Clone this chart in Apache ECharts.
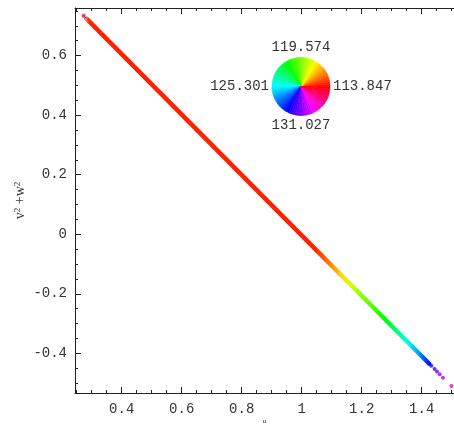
<!DOCTYPE html>
<html>
<head>
<meta charset="utf-8">
<script src="https://cdn.jsdelivr.net/npm/echarts@6/dist/echarts.min.js"></script>
<style>html,body{margin:0;padding:0;background:#fff;}#c{width:454px;height:430px;}</style>
</head>
<body>
<div id="c"></div>
<script>
// ---- data ----
// solid stroke of the curve (x, y)
const lineX = [0.285, 1.0, 1.425];
const lineY = [0.722, -0.004, -0.435];
// colour value (legend units) along the solid stroke, keyed by x
const colorX = [0.285, 0.300, 1.040, 1.070, 1.100, 1.130, 1.160, 1.190, 1.230, 1.270, 1.310, 1.345, 1.380, 1.410, 1.425];
const colorPhase = [116.392, 114.356, 114.356, 115.120, 116.074, 117.156, 118.301, 119.256, 120.210, 121.483, 123.392, 124.982, 126.573, 128.482, 129.118];
// isolated points (x, y, colour value)
const dotX = [0.273, 0.282, 0.286, 1.432, 1.443, 1.451, 1.460, 1.471, 1.499];
const dotY = [0.734, 0.725, 0.721, -0.442, -0.453, -0.461, -0.470, -0.482, -0.510];
const dotPhase = [136.118, 129.118, 121.483, 129.437, 130.073, 130.710, 131.346, 131.982, 134.209];
// legend wheel labels (right, top, left, bottom)
const wheelLabels = ['113.847', '119.574', '125.301', '131.027'];
const wheelHues = [0,5,10,15,20,25,30,35,40,45,50,55,60,65,70,75,80,85,90,95,100,105,110,115,120,125,130,135,140,145,150,155,160,165,170,175,180,185,190,195,200,205,210,215,220,225,230,235,240,245,250,255,260,265,270,275,280,285,290,295,300,305,310,315,320,325,330,335,340,345,350,355];
// ticks
const xMajor = [0.4, 0.6, 0.8, 1, 1.2, 1.4];
const xMinor = [0.25,0.3,0.35,0.45,0.5,0.55,0.65,0.7,0.75,0.85,0.9,0.95,1.05,1.1,1.15,1.25,1.3,1.35,1.45,1.5];
const yMajor = [-0.4, -0.2, 0, 0.2, 0.4, 0.6];
const yMinor = [-0.5,-0.45,-0.35,-0.3,-0.25,-0.15,-0.1,-0.05,0.05,0.1,0.15,0.25,0.3,0.35,0.45,0.5,0.55,0.65,0.7,0.75];

// ---- colour scale: legend value -> hue ----
const PHASE0 = 113.847, PERIOD = (131.027 - 113.847) / 0.75;
function hueColor(h) {
  h = ((h % 360) + 360) % 360;
  const x = 1 - Math.abs((h / 60) % 2 - 1);
  let r, g, b;
  if (h < 60) { r = 1; g = x; b = 0; }
  else if (h < 120) { r = x; g = 1; b = 0; }
  else if (h < 180) { r = 0; g = 1; b = x; }
  else if (h < 240) { r = 0; g = x; b = 1; }
  else if (h < 300) { r = x; g = 0; b = 1; }
  else { r = 1; g = 0; b = x; }
  return 'rgb(' + Math.round(r * 255) + ',' + Math.round(g * 255) + ',' + Math.round(b * 255) + ')';
}
function phaseColor(v) { return hueColor((v - PHASE0) / PERIOD * 360); }

const x0 = lineX[0], x1 = lineX[lineX.length - 1];
const stops = colorX.map((cx, i) => ({
  offset: Math.min(1, Math.max(0, (cx - x0) / (x1 - x0))),
  color: phaseColor(colorPhase[i])
}));

const lineData = lineX.map((x, i) => [x, lineY[i]]);
const dotData = dotX.map((x, i) => ({ value: [x, dotY[i]], itemStyle: { color: phaseColor(dotPhase[i]) } }));
const wheelData = wheelHues.map(h => ({ value: 1, itemStyle: { color: hueColor(h + 2.5), borderColor: hueColor(h + 2.5), borderWidth: 0.6 } }));

const XMIN = 0.2443, XMAX = 1.5077, YMIN = -0.5333, YMAX = 0.76;
const mono = 'Liberation Mono';
const axisCol = '#222';

function xAx(pos, ticks, len, labels, line) {
  return {
    type: 'value', position: pos, min: XMIN, max: XMAX,
    axisLine: { show: line, onZero: false, lineStyle: { color: axisCol, width: 1 } },
    axisTick: { show: true, inside: true, length: len, customValues: ticks, lineStyle: { color: axisCol } },
    axisLabel: labels ? { show: true, customValues: ticks, margin: 9, fontFamily: mono, fontSize: 14, color: '#333', formatter: v => String(v) } : { show: false },
    splitLine: { show: false }
  };
}
function yAx(ticks, len, labels, line) {
  return {
    type: 'value', position: 'left', min: YMIN, max: YMAX,
    axisLine: { show: line, onZero: false, lineStyle: { color: axisCol, width: 1 } },
    axisTick: { show: true, inside: true, length: len, customValues: ticks, lineStyle: { color: axisCol } },
    axisLabel: labels ? { show: true, customValues: ticks, margin: 8, fontFamily: mono, fontSize: 14, color: '#333', formatter: v => String(v) } : { show: false },
    splitLine: { show: false }
  };
}

const xs = [
  Object.assign(xAx('bottom', xMajor, 6, true, true), {
    name: 'u', nameLocation: 'middle', nameGap: 25, nameMoveOverlap: false,
    nameTextStyle: { fontFamily: 'Liberation Serif', fontSize: 7, color: '#333' }
  }),
  xAx('bottom', xMinor, 3, false, false),
  xAx('top', xMajor, 6, false, true),
  xAx('top', xMinor, 3, false, false)
];
const ys = [
  Object.assign(yAx(yMajor, 6, true, true), {
    name: 'v{s|2} +w{s|2}', nameLocation: 'middle', nameGap: 48, nameMoveOverlap: false,
    nameTextStyle: {
      fontFamily: 'Liberation Serif', fontSize: 14, color: '#333',
      rich: { s: { fontFamily: 'Liberation Serif', fontSize: 9, verticalAlign: 'top', color: '#333' } }
    }
  }),
  yAx(yMinor, 3, false, false)
];

const cx = 301, cy = 86.5, R = 29;
const lblStyle = { fontFamily: mono, fontSize: 14, fill: '#333' };

const chart = echarts.init(document.getElementById('c'), null, { renderer: 'canvas' });
chart.setOption({
  animation: false,
  backgroundColor: '#fff',
  grid: { left: 75, right: 0, top: 8, bottom: 34, containLabel: false },
  xAxis: xs,
  yAxis: ys,
  series: [
    {
      type: 'line', xAxisIndex: 0, yAxisIndex: 0, data: lineData, showSymbol: false, silent: true,
      lineStyle: { width: 4.5, cap: 'round', color: new echarts.graphic.LinearGradient(0, 0, 1, 0, stops) }
    },
    {
      type: 'scatter', xAxisIndex: 0, yAxisIndex: 0, data: dotData, symbolSize: 4, silent: true
    },
    {
      type: 'pie', center: [cx, cy], radius: [0, R], clockwise: false, startAngle: 0,
      data: wheelData, label: { show: false }, labelLine: { show: false }, silent: true,
      emphasis: { disabled: true }
    }
  ],
  graphic: [
    { type: 'text', x: cx + R + 3, y: cy, style: Object.assign({ text: wheelLabels[0], align: 'left', verticalAlign: 'middle' }, lblStyle) },
    { type: 'text', x: cx, y: cy - R - 3, style: Object.assign({ text: wheelLabels[1], align: 'center', verticalAlign: 'bottom' }, lblStyle) },
    { type: 'text', x: cx - R - 3, y: cy, style: Object.assign({ text: wheelLabels[2], align: 'right', verticalAlign: 'middle' }, lblStyle) },
    { type: 'text', x: cx, y: cy + R + 3, style: Object.assign({ text: wheelLabels[3], align: 'center', verticalAlign: 'top' }, lblStyle) }
  ]
});
</script>
</body>
</html>
